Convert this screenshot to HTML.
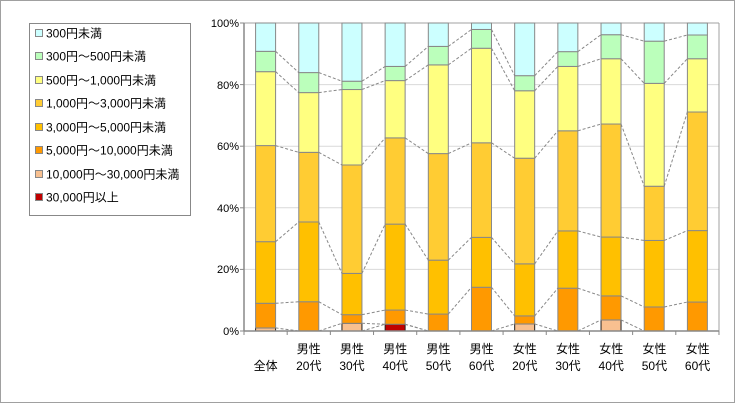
<!DOCTYPE html>
<html><head><meta charset="utf-8"><style>
html,body{margin:0;padding:0;background:#fff;}
svg{display:block;font-family:"Liberation Sans","Noto Sans CJK JP",sans-serif;}
</style></head><body>
<svg id="s" width="736" height="406" xmlns="http://www.w3.org/2000/svg">
<rect x="0.5" y="0.5" width="734" height="402" fill="#fff" stroke="#a0a0a0"/>
<g stroke="#d9d9d9" stroke-width="1">
<line x1="244" y1="84.6" x2="719" y2="84.6"/>
<line x1="244" y1="146.2" x2="719" y2="146.2"/>
<line x1="244" y1="207.8" x2="719" y2="207.8"/>
<line x1="244" y1="269.4" x2="719" y2="269.4"/>
</g>
<line x1="244" y1="23" x2="719" y2="23" stroke="#a0a0a0"/>
<line x1="719" y1="23" x2="719" y2="331" stroke="#a0a0a0"/>
<g id="bars"></g>
<line x1="244" y1="23" x2="244" y2="331" stroke="#888" stroke-width="1.5"/>
<line x1="244" y1="331" x2="719" y2="331" stroke="#888" stroke-width="1.5"/>
<g id="ticks" stroke="#888"></g>
<g font-size="11" fill="#000" text-anchor="end">
<text x="239" y="27">100%</text>
<text x="239" y="89">80%</text>
<text x="239" y="150">60%</text>
<text x="239" y="212">40%</text>
<text x="239" y="273">20%</text>
<text x="239" y="335">0%</text>
</g>
<g font-size="12" fill="#000" text-anchor="middle">
<text x="265.6" y="370">全体</text>
<text x="308.8" y="353">男性</text><text x="308.8" y="370">20代</text>
<text x="352" y="353">男性</text><text x="352" y="370">30代</text>
<text x="395.2" y="353">男性</text><text x="395.2" y="370">40代</text>
<text x="438.4" y="353">男性</text><text x="438.4" y="370">50代</text>
<text x="481.6" y="353">男性</text><text x="481.6" y="370">60代</text>
<text x="524.8" y="353">女性</text><text x="524.8" y="370">20代</text>
<text x="568" y="353">女性</text><text x="568" y="370">30代</text>
<text x="611.2" y="353">女性</text><text x="611.2" y="370">40代</text>
<text x="654.4" y="353">女性</text><text x="654.4" y="370">50代</text>
<text x="697.6" y="353">女性</text><text x="697.6" y="370">60代</text>
</g>
<rect x="29.5" y="23.5" width="161" height="192" fill="#fff" stroke="#888"/>
<g font-size="12" fill="#000">
<rect x="35.5" y="29.5" width="7" height="7" fill="#CCFFFF" stroke="#888"/><text x="46" y="37.5">300円未満</text>
<rect x="35.5" y="52.5" width="7" height="7" fill="#BBFFBB" stroke="#888"/><text x="46" y="60.5">300円～500円未満</text>
<rect x="35.5" y="76.5" width="7" height="7" fill="#FFFF80" stroke="#888"/><text x="46" y="84.5">500円～1,000円未満</text>
<rect x="35.5" y="99.5" width="7" height="7" fill="#FFCC33" stroke="#888"/><text x="46" y="107.5">1,000円～3,000円未満</text>
<rect x="35.5" y="123.5" width="7" height="7" fill="#FFC000" stroke="#888"/><text x="46" y="131.5">3,000円～5,000円未満</text>
<rect x="35.5" y="146.5" width="7" height="7" fill="#FF9900" stroke="#888"/><text x="46" y="154.5">5,000円～10,000円未満</text>
<rect x="35.5" y="170.5" width="7" height="7" fill="#F8C090" stroke="#888"/><text x="46" y="178.5">10,000円～30,000円未満</text>
<rect x="35.5" y="193.5" width="7" height="7" fill="#C00000" stroke="#888"/><text x="46" y="201.5">30,000円以上</text>
</g>
</svg>
<script>
(function(){
var ns="http://www.w3.org/2000/svg";
var d=[
[0,1,9,29,60.2,84.2,90.8,100],
[0,0,9.5,35.4,58,77.4,83.9,100],
[0,2.5,5.3,18.7,53.9,78.4,81.1,100],
[2.2,2.2,6.8,34.7,62.7,81.3,85.9,100],
[0,0,5.5,23,57.6,86.4,92.4,100],
[0,0,14.2,30.4,61.1,91.8,97.9,100],
[0,2.3,4.9,21.8,56.1,78,82.9,100],
[0,0,13.9,32.5,65,85.9,90.7,100],
[0,3.6,11.4,30.5,67.2,88.4,96.2,100],
[0,0,7.8,29.4,47,80.4,94.1,100],
[0,0,9.4,32.6,71.1,88.4,96.1,100]];
var col=["#C00000","#F8C090","#FF9900","#FFC000","#FFCC33","#FFFF80","#BBFFBB","#CCFFFF"];
var g=document.getElementById("bars");
function y(p){return 331-p*3.08;}
var step=43.18,bw=20;
function el(n,a){var e=document.createElementNS(ns,n);for(var k in a)e.setAttribute(k,a[k]);g.appendChild(e);return e;}
for(var i=0;i<11;i++){
 var cx=244+step*(i+0.5),x=cx-bw/2,prev=0;
 for(var j=0;j<8;j++){var t=d[i][j];if(t>prev){el("rect",{x:x,y:y(t),width:bw,height:y(prev)-y(t),fill:col[j],stroke:(j==0||j==1)?"#222":"#888","stroke-width":1});}prev=t;}
}
for(var i=0;i<10;i++){
 var x1=244+step*(i+0.5)+bw/2,x2=244+step*(i+1.5)-bw/2;
 for(var j=0;j<7;j++){el("line",{x1:x1,y1:y(d[i][j]),x2:x2,y2:y(d[i+1][j]),stroke:"#888","stroke-dasharray":"3,2","stroke-width":1});}
}
var tk=document.getElementById("ticks");
for(var i=0;i<=11;i++){var e=document.createElementNS(ns,"line");var xx=244+step*i;e.setAttribute("x1",xx);e.setAttribute("x2",xx);e.setAttribute("y1",331);e.setAttribute("y2",335);tk.appendChild(e);}
for(var i=0;i<=5;i++){var e=document.createElementNS(ns,"line");var yy=23+61.6*i;e.setAttribute("x1",240);e.setAttribute("x2",244);e.setAttribute("y1",yy);e.setAttribute("y2",yy);tk.appendChild(e);}
})();
</script>
</body></html>
